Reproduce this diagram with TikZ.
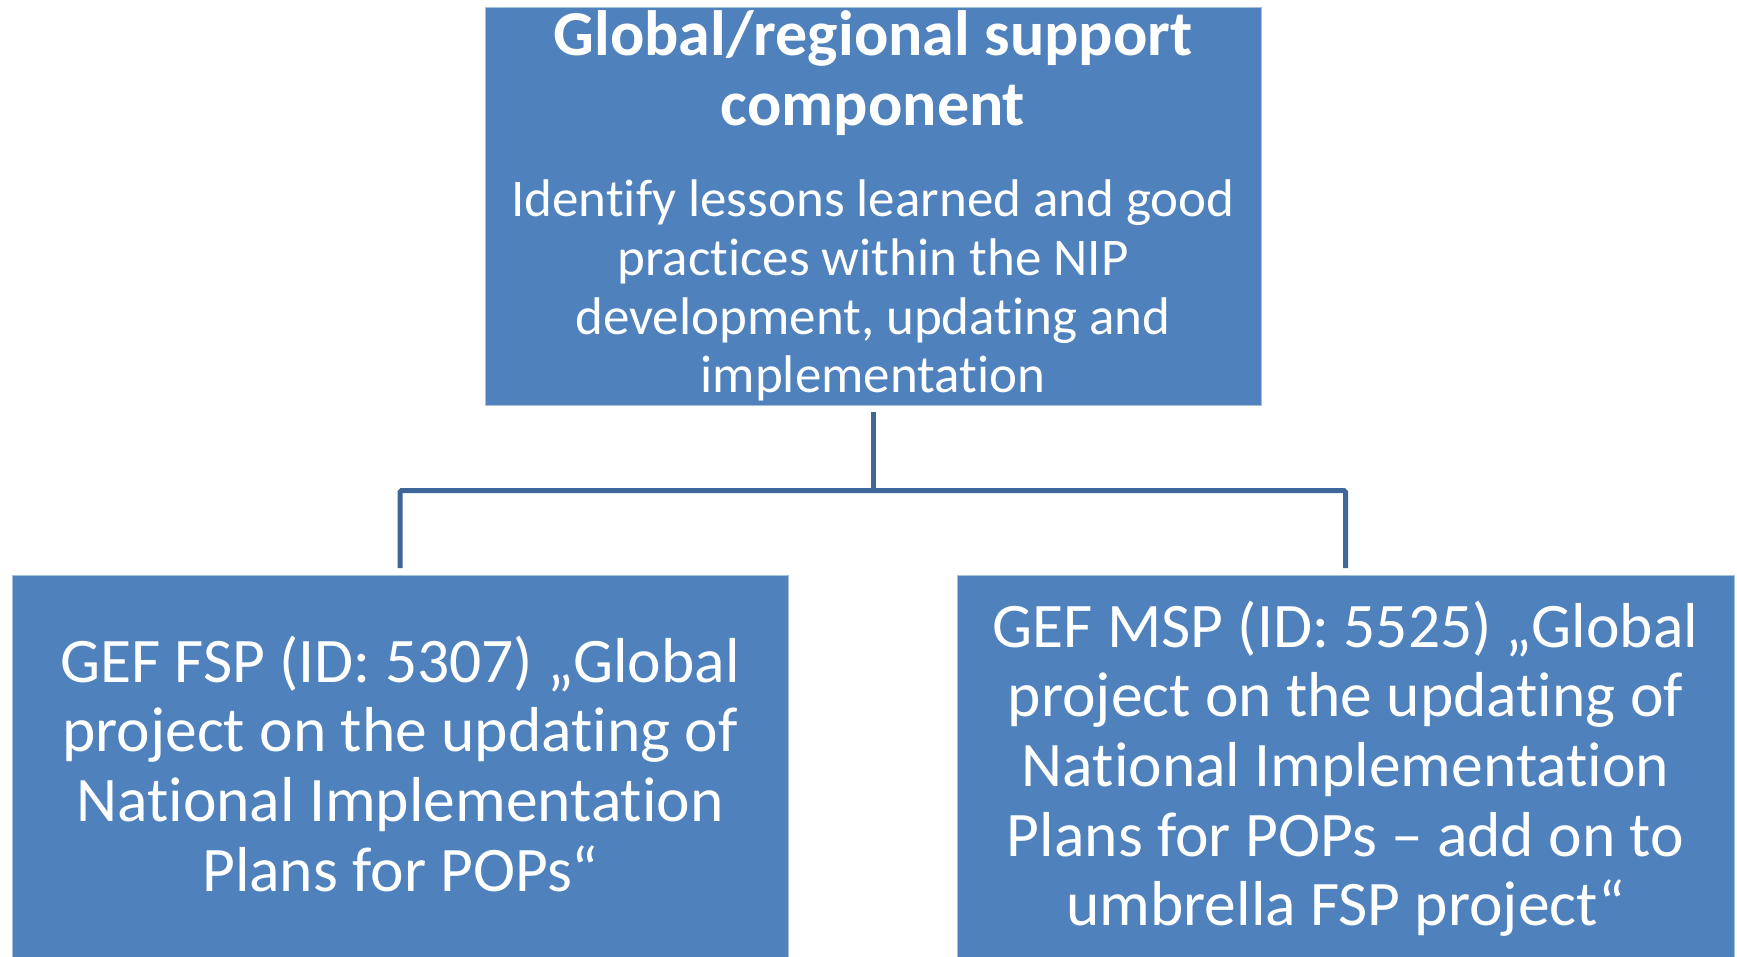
\documentclass[tikz,border=0pt]{standalone}
\usepackage{fontspec}
\setmainfont{Carlito}[Ligatures=NoCommon]
\definecolor{boxblue}{HTML}{4F81BD}
\definecolor{connblue}{HTML}{3E6699}
\definecolor{edgeblue}{HTML}{A7BEDC}
\tikzset{
  box/.style={rectangle, fill=boxblue, draw=edgeblue, line width=0.8pt, text=white,
    inner sep=0pt, align=flush center},
  boxtext/.style={text=white, inner sep=0pt, align=flush center, text width=770pt,
    font=\fontsize{63.5}{69.7}\selectfont},
  conn/.style={draw=connblue, line width=5pt}
}
\begin{document}
\begin{tikzpicture}[x=1pt,y=-1pt]
\useasboundingbox[fill=white] (0,0) rectangle (1737,957);
\node[box, minimum width=776pt, minimum height=398pt, text width=776pt] (top) at (873,206)
 {\fontsize{64}{69.8}\selectfont\bfseries Global/regional support\\component\par
  \vspace{32.8pt}\fontsize{53}{58.7}\selectfont\mdseries Identify lessons learned and good\\practices within the NIP\\development, updating and\\implementation\par};
\node[box, minimum width=776pt, minimum height=382pt] (left) at (400,766) {};
\node[box, minimum width=777pt, minimum height=382pt] (right) at (1345.5,766) {};
\node[boxtext] (lefttext) at (400,763.6)
 {GEF FSP (ID: 5307) „Global\\project on the updating of\\National Implementation\\Plans for POPs“\par};
\node[boxtext] (righttext) at (1345.5,768.8)
 {GEF MSP (ID: 5525) „Global\\project on the updating of\\National Implementation\\Plans for POPs – add on to\\umbrella FSP project“\par};
\coordinate (bus) at (873,490.7);
\draw[conn, shorten <=6.5pt] (top.south) -- (bus);
\draw[conn, shorten >=6.5pt, rounded corners=1.5pt] (bus) -| (left.north);
\draw[conn, shorten >=6.5pt, rounded corners=1.5pt] (bus) -| (right.north);
\end{tikzpicture}
\end{document}
